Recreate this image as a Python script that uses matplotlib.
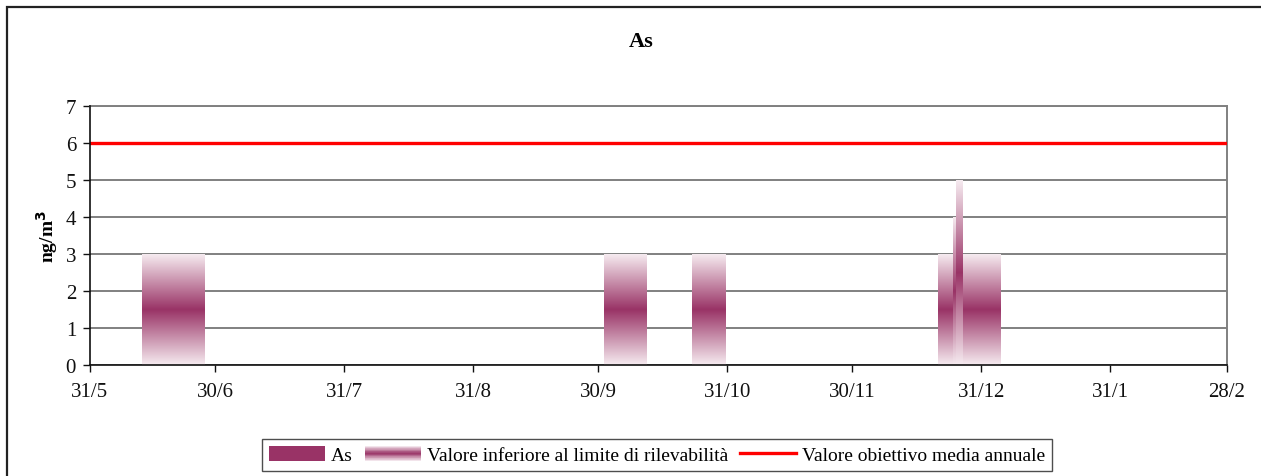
import numpy as np
import pandas as pd
import matplotlib
matplotlib.use("Agg")
import matplotlib.pyplot as plt
import matplotlib.dates as mdates
from matplotlib.colors import LinearSegmentedColormap
from matplotlib.patches import Patch, Rectangle
from matplotlib.lines import Line2D
from matplotlib.legend_handler import HandlerBase

# --- data -------------------------------------------------------------
title = "As"
y_label = "ng/m$^{\\mathbf{3}}$"
target_value = 6  # valore obiettivo media annuale (ng/m3)

# days with concentration below detection limit (plotted value)
below_dates = (
    list(pd.date_range("2008-06-13", "2008-06-27"))
    + list(pd.date_range("2008-10-02", "2008-10-11"))
    + list(pd.date_range("2008-10-23", "2008-10-30"))
    + list(pd.date_range("2008-12-21", "2009-01-04"))
)
below_values = [3] * len(below_dates)

# short sampling periods with a higher detection limit
spike_dates = [pd.Timestamp("2008-12-24 12:00"), pd.Timestamp("2008-12-25 17:00")]
spike_spans = [0.8, 1.6]  # days
spike_values = [4, 5]

tick_dates = pd.to_datetime(["2008-05-31", "2008-06-30", "2008-07-31", "2008-08-31",
                             "2008-09-30", "2008-10-31", "2008-11-30", "2008-12-31",
                             "2009-01-31", "2009-02-28"])
tick_labels = ["31/5", "30/6", "31/7", "31/8", "30/9", "31/10", "30/11", "31/12", "31/1", "28/2"]

legend_labels = ["As", "Valore inferiore al limite di rilevabilità",
                 "Valore obiettivo media annuale"]

# --- style --------------------------------------------------------------
plt.rcParams["font.family"] = ["Liberation Serif", "DejaVu Serif"]
plum = "#993366"
light = "#f6ebf0"
grad_cmap = LinearSegmentedColormap.from_list("fade", [light, plum, light])

fig = plt.figure(figsize=(12.61, 4.77), dpi=100)
ax = fig.add_axes([90 / 1261, 1 - 366 / 477, (1227 - 90) / 1261, (366 - 107) / 477])

# outer chart border (left and top edges visible)
fig.patches.append(Rectangle((7 / 1261, -0.1), 1.2, 1 - 8 / 477 + 0.1,
                             transform=fig.transFigure, fill=False,
                             edgecolor="#222222", lw=1.6, zorder=0))

grad = np.linspace(0, 1, 256).reshape(-1, 1)


def gradient_bar(xc, width, h):
    x0 = mdates.date2num(xc) - width / 2
    ax.imshow(grad, cmap=grad_cmap, aspect="auto", interpolation="bilinear",
              extent=[x0, x0 + width, 0, h], origin="lower", zorder=2)


for d, v in zip(below_dates, below_values):
    gradient_bar(d, 1.0, v)
for d, w, v in zip(spike_dates, spike_spans, spike_values):
    gradient_bar(d, w, v)

ax.axhline(target_value, color="#ff0000", lw=2.4, zorder=4)

ax.set_xlim(mdates.date2num(tick_dates[0]), mdates.date2num(tick_dates[-1]))
ax.set_ylim(0, 7)
ax.set_yticks(range(0, 8))
ax.set_xticks(mdates.date2num(tick_dates))
ax.set_xticklabels(tick_labels)
ax.yaxis.grid(True, color="#808080", lw=1.4, zorder=1)
ax.set_axisbelow(True)

for s in ("top", "right"):
    ax.spines[s].set_color("#808080")
    ax.spines[s].set_linewidth(1.4)
for s in ("left", "bottom"):
    ax.spines[s].set_color("#111111")
    ax.spines[s].set_linewidth(1.2)
    ax.spines[s].set_zorder(5)

ax.tick_params(axis="both", direction="out", length=5, width=1.0, labelsize=15,
               colors="#111111")
ax.tick_params(axis="x", pad=7)
ax.tick_params(axis="y", pad=5)

ax.set_ylabel(y_label, fontsize=14, fontweight="bold", labelpad=4)
fig.text(641 / 1261, 1 - 42 / 477, title, ha="center", va="center",
         fontsize=16, fontweight="bold")


class GradientHandle:
    pass


class HandlerGradient(HandlerBase):
    def create_artists(self, legend, orig_handle, xdescent, ydescent, width,
                       height, fontsize, trans):
        n = 24
        arts = []
        for i in range(n):
            c = grad_cmap((i + 0.5) / n)
            arts.append(Rectangle((-xdescent, -ydescent + height * i / n), width,
                                  height / n * 1.05, facecolor=c, edgecolor="none",
                                  transform=trans))
        return arts


handles = [Patch(facecolor=plum, edgecolor="none"), GradientHandle(),
           Line2D([], [], color="#ff0000", lw=2.4)]
leg = fig.legend(handles, legend_labels, loc="center", ncol=3,
                 bbox_to_anchor=(657 / 1261, 1 - 456 / 477),
                 handler_map={GradientHandle: HandlerGradient()},
                 fontsize=14, frameon=True, fancybox=False, shadow=False,
                 handlelength=2.9, handleheight=0.8, handletextpad=0.3,
                 columnspacing=0.6, borderpad=0.35)
leg.get_frame().set_edgecolor("#222222")
leg.get_frame().set_linewidth(1.0)

fig.savefig("out.png", dpi=100)
